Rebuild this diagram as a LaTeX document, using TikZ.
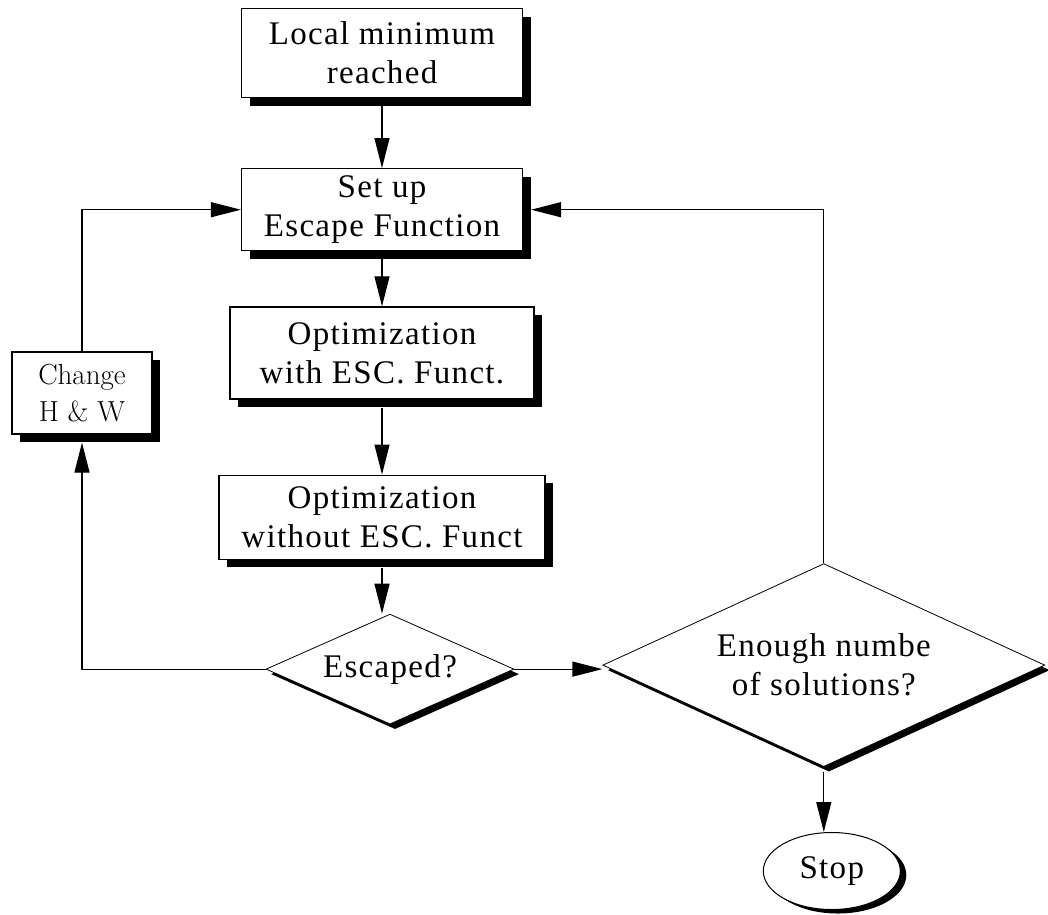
\documentclass[tikz,border=0pt]{standalone}
\usepackage{fontspec}
\newfontfamily\flowfont{Liberation Serif}[LetterSpace=4]
\usetikzlibrary{arrows.meta,positioning,shapes.geometric,shadows}

\begin{document}
\begin{tikzpicture}[
    x=1pt, y=-1pt,
    box/.style={draw, fill=white, line width=1.2pt, align=center, inner sep=0pt,
      font={\flowfont\fontsize{33}{39}\selectfont},
      drop shadow={shadow xshift=8pt, shadow yshift=-8pt, opacity=1, fill=black}},
    test/.style={diamond, draw, fill=white, line width=0.8pt, align=center, inner sep=0pt,
      font={\flowfont\fontsize{33}{39}\selectfont},
      drop shadow={shadow xshift=5pt, shadow yshift=-5pt, opacity=1, fill=black}},
    term/.style={ellipse, draw, fill=white, line width=1pt, inner sep=0pt,
      font={\flowfont\fontsize{33}{39}\selectfont},
      drop shadow={shadow xshift=6pt, shadow yshift=-4pt, opacity=1, fill=black}},
    >={Triangle[length=30pt,width=15pt]},
    line width=1.2pt
]
\useasboundingbox (0,0) rectangle (1048,914);

\node[box, minimum width=281pt, minimum height=89pt] (local) at (382,53) {Local minimum\\reached};
\node[box, minimum width=281pt, minimum height=82pt, below=70pt of local] (setup) {Set up\\Escape Function};
\node[box, minimum width=304pt, minimum height=92pt, below=55pt of setup] (optwith) {Optimization\\with ESC. Funct.};
\node[box, minimum width=326pt, minimum height=84pt, below=75pt of optwith] (optwithout) {Optimization\\without ESC. Funct};
\node[test, aspect=2.25, minimum width=248pt, minimum height=110pt, below=54pt of optwithout, xshift=8pt] (escaped) {Escaped?};
\node[test, aspect=2.18, minimum width=442pt, minimum height=203pt, right=88pt of escaped, yshift=4pt] (enough) {Enough numbe\\of solutions?};
\node[term, minimum width=137pt, minimum height=77pt, below=65pt of enough, xshift=8pt] (stop) {Stop};
\node[box, minimum width=140pt, minimum height=82pt, font={\rmfamily\fontsize{29}{37}\selectfont}] (change) at (82,393) {Change\\H \& W};

\draw[->, shorten <=8pt] (local) -- (setup);
\draw[->, shorten <=8pt] (setup) -- (optwith);
\draw[->, shorten <=8pt] (optwith) -- (optwithout);
\draw[->, shorten <=8pt] (optwithout) -- (optwithout |- escaped.north);
\draw[->] (escaped.east) -- (escaped.east -| enough.west);
\draw[->, shorten <=5pt] (enough.south) -- (enough.south |- stop.north);
\draw[->, shorten >=8pt] (escaped.west) -| (change.south);
\draw[->] (change.north) |- (setup.west);
\draw[->, shorten >=8pt] (enough.north) |- (setup.east);
\end{tikzpicture}
\end{document}
